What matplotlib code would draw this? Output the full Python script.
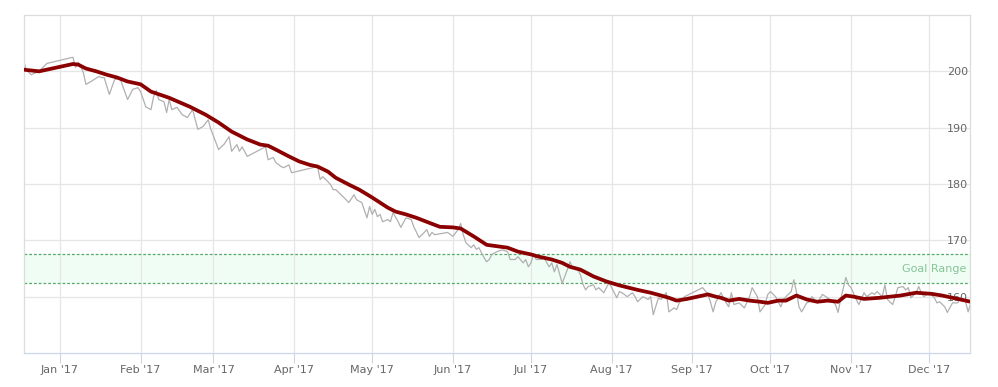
import numpy as np
import matplotlib
matplotlib.use("Agg")
import matplotlib.pyplot as plt
import matplotlib.dates as mdates
import matplotlib.transforms as mtransforms

# ---------------- data ----------------
base_date = "2017-01-01"

# daily weigh-ins (day offset from Jan 1 2017, weight)
raw_day = [-14, -13, -11, -8, -5, 5, 6, 7, 8, 9, 10, 12, 15, 16, 17, 19, 21, 23, 26, 28,
           30, 31, 33, 35, 36, 37, 38, 40, 41, 42, 43, 45, 47, 49, 51, 53, 55, 57, 58, 61,
           62, 63, 65, 66, 68, 69, 70, 72, 79, 80, 82, 83, 85, 86, 88, 89, 99, 100, 101, 103,
           104, 105, 106, 108, 110, 111, 113, 114, 116, 118, 119, 120, 121, 122, 123, 124, 126, 127, 128, 130,
           131, 133, 135, 136, 138, 140, 141, 142, 143, 144, 149, 151, 153, 154, 155, 156, 158, 159, 160, 161,
           163, 164, 165, 166, 168, 170, 172, 173, 175, 176, 178, 179, 180, 181, 182, 183, 185, 186, 188, 189,
           190, 191, 193, 195, 196, 197, 199, 200, 201, 202, 203, 205, 206, 207, 209, 211, 212, 214, 215, 216,
           218, 220, 221, 222, 224, 226, 227, 228, 230, 231, 233, 234, 236, 237, 238, 240, 247, 249, 250, 251,
           252, 254, 256, 257, 258, 259, 261, 263, 265, 266, 268, 269, 271, 272, 273, 275, 277, 278, 279, 281,
           282, 283, 284, 285, 287, 288, 289, 291, 293, 295, 297, 298, 299, 300, 302, 303, 304, 306, 307, 309,
           310, 312, 313, 314, 316, 317, 318, 320, 321, 322, 324, 325, 326, 327, 329, 330, 331, 332, 334, 336,
           337, 338, 340, 341, 343, 345, 346, 348, 349, 350]
raw_weight = [202.1, 200.3, 199.4, 200.0, 201.4, 202.5, 200.7, 201.6, 200.9, 199.8, 197.7, 198.2, 199.1, 198.9, 198.9, 195.9, 198.5, 198.9, 195.0, 196.8,
              197.1, 196.4, 193.7, 193.2, 195.5, 196.6, 195.0, 194.6, 192.7, 195.0, 193.2, 193.6, 192.3, 191.8, 193.2, 189.7, 190.2, 191.4, 189.7, 186.1,
              186.6, 187.0, 188.4, 185.8, 187.0, 185.8, 186.6, 184.9, 186.6, 184.3, 184.7, 183.8, 183.1, 182.9, 183.4, 182.0, 183.1, 180.8, 181.3, 180.4,
              179.9, 179.0, 179.0, 178.1, 177.2, 176.7, 178.1, 177.2, 176.7, 174.0, 176.0, 174.6, 175.5, 174.2, 174.6, 173.3, 173.7, 173.3, 174.9, 173.3,
              172.3, 174.0, 173.7, 172.4, 170.5, 171.4, 171.9, 170.7, 171.4, 171.0, 171.4, 170.7, 171.9, 173.0, 171.0, 169.6, 168.7, 169.2, 168.4, 168.7,
              166.9, 166.2, 166.6, 167.5, 168.0, 168.3, 168.0, 166.6, 166.6, 167.1, 166.0, 166.6, 165.3, 166.0, 167.5, 166.6, 166.6, 166.9, 165.3, 166.0,
              164.4, 165.7, 162.4, 164.8, 166.2, 165.2, 164.8, 163.9, 162.2, 161.2, 161.8, 162.1, 161.2, 161.6, 160.7, 162.5, 161.6, 159.8, 160.9, 160.7,
              160.0, 160.7, 160.0, 159.1, 160.0, 159.5, 160.0, 156.8, 159.8, 159.5, 160.7, 157.3, 158.0, 157.7, 158.9, 160.0, 161.6, 160.4, 159.0, 157.3,
              159.0, 160.7, 158.9, 158.2, 160.7, 158.6, 158.9, 158.0, 160.0, 161.6, 160.0, 157.3, 158.6, 160.4, 160.9, 160.0, 158.2, 159.5, 160.0, 160.9,
              163.0, 160.9, 158.2, 157.3, 158.9, 159.1, 160.0, 158.9, 160.4, 159.8, 159.1, 158.6, 157.2, 159.5, 163.4, 162.1, 161.6, 159.5, 158.6, 160.7,
              160.0, 160.7, 160.4, 160.9, 160.0, 162.1, 159.5, 158.6, 160.0, 161.6, 161.8, 161.2, 161.6, 159.8, 160.7, 161.8, 160.7, 160.0, 160.7, 159.8,
              158.9, 159.1, 158.2, 157.2, 158.9, 158.9, 159.8, 159.1, 157.3, 158.9]

# smoothed trend line
trend_day = [-14, -8, -3, 5, 7, 10, 14, 18, 22, 26, 31, 35, 42, 50, 56, 61, 66, 72, 77, 80,
             83, 88, 92, 96, 99, 103, 106, 111, 115, 120, 126, 129, 133, 137, 142, 146, 151, 154, 159, 164,
             172, 176, 181, 184, 189, 193, 196, 200, 205, 210, 215, 222, 227, 231, 234, 237, 241, 245, 249, 252,
             254, 257, 261, 265, 269, 272, 276, 279, 283, 287, 291, 295, 299, 302, 305, 309, 315, 323, 329, 335,
             339, 346, 350]
trend_weight = [200.3, 200.0, 200.5, 201.3, 201.2, 200.5, 200.0, 199.4, 198.9, 198.2, 197.7, 196.4, 195.3, 193.7, 192.3, 190.9, 189.3, 187.9, 187.0, 186.8,
                186.1, 184.9, 184.0, 183.4, 183.1, 182.2, 181.1, 179.9, 179.0, 177.6, 175.8, 175.1, 174.6, 174.0, 173.1, 172.4, 172.3, 172.1, 170.7, 169.2,
                168.7, 168.0, 167.5, 167.1, 166.6, 166.0, 165.3, 164.8, 163.6, 162.7, 162.0, 161.2, 160.7, 160.2, 159.8, 159.3, 159.6, 160.0, 160.4, 160.0,
                159.8, 159.3, 159.6, 159.3, 159.1, 158.9, 159.3, 159.3, 160.2, 159.5, 159.1, 159.3, 159.1, 160.2, 160.0, 159.6, 159.8, 160.2, 160.7, 160.5,
                160.2, 159.5, 159.1]

goal_low = 162.5
goal_high = 167.5
goal_label = "Goal Range"

y_ticks = [160, 170, 180, 190, 200]
y_range = (150, 210)
month_starts = ["2017-01-01", "2017-02-01", "2017-03-01", "2017-04-01", "2017-05-01", "2017-06-01",
                "2017-07-01", "2017-08-01", "2017-09-01", "2017-10-01", "2017-11-01", "2017-12-01"]
month_labels = ["Jan '17", "Feb '17", "Mar '17", "Apr '17", "May '17", "Jun '17",
                "Jul '17", "Aug '17", "Sep '17", "Oct '17", "Nov '17", "Dec '17"]
x_range = ("2016-12-18T05", "2017-12-16T17")

# ---------------- drawing ----------------
b = np.datetime64(base_date)
raw_dates = b + np.array(raw_day).astype("timedelta64[D]")
trend_dates = b + np.array(trend_day).astype("timedelta64[D]")

W, H = 998, 387
fig = plt.figure(figsize=(W / 100, H / 100), dpi=100)
ax = fig.add_axes([24 / W, 34 / H, 946 / W, 338 / H])

grid_c = "#e6e6e6"
ax.axhspan(goal_low, goal_high, color="#f0fdf4", zorder=0.3, lw=0)
for v in (goal_low, goal_high):
    ax.axhline(v, color="#55a868", lw=0.9, ls=(0, (2.2, 1.6)), zorder=0.6)

ax.plot(raw_dates, raw_weight, color="#b0b0b0", lw=0.9, zorder=2)
ax.plot(trend_dates, trend_weight, color="#8b0000", lw=2.7, zorder=3,
        solid_capstyle="round", solid_joinstyle="round")

ax.set_ylim(*y_range)
ax.set_xlim(np.datetime64(x_range[0]), np.datetime64(x_range[1]))

ax.set_yticks(y_ticks)
ax.yaxis.tick_right()
ax.tick_params(axis="y", length=0, pad=-1.5, labelsize=8, labelcolor="#666666")
for lbl in ax.get_yticklabels():
    lbl.set_horizontalalignment("right")

ax.set_xticks([np.datetime64(m) for m in month_starts])
ax.set_xticklabels(month_labels)
ax.tick_params(axis="x", length=7.2, width=0.8, color="#ccd6eb", pad=1.5,
               labelsize=8, labelcolor="#666666")

ax.set_axisbelow(True)
ax.grid(True, color=grid_c, lw=0.9)

for s in ("top", "left", "right"):
    ax.spines[s].set_color("#dddddd")
    ax.spines[s].set_linewidth(0.9)
ax.spines["bottom"].set_color("#ccd6eb")
ax.spines["bottom"].set_linewidth(0.9)

trans = mtransforms.blended_transform_factory(ax.transAxes, ax.transData)
ax.text(0.9965, (goal_low + goal_high) / 2, goal_label, transform=trans,
        ha="right", va="center", fontsize=8, color="#86c596", zorder=1)

fig.savefig("out.png", dpi=100)
